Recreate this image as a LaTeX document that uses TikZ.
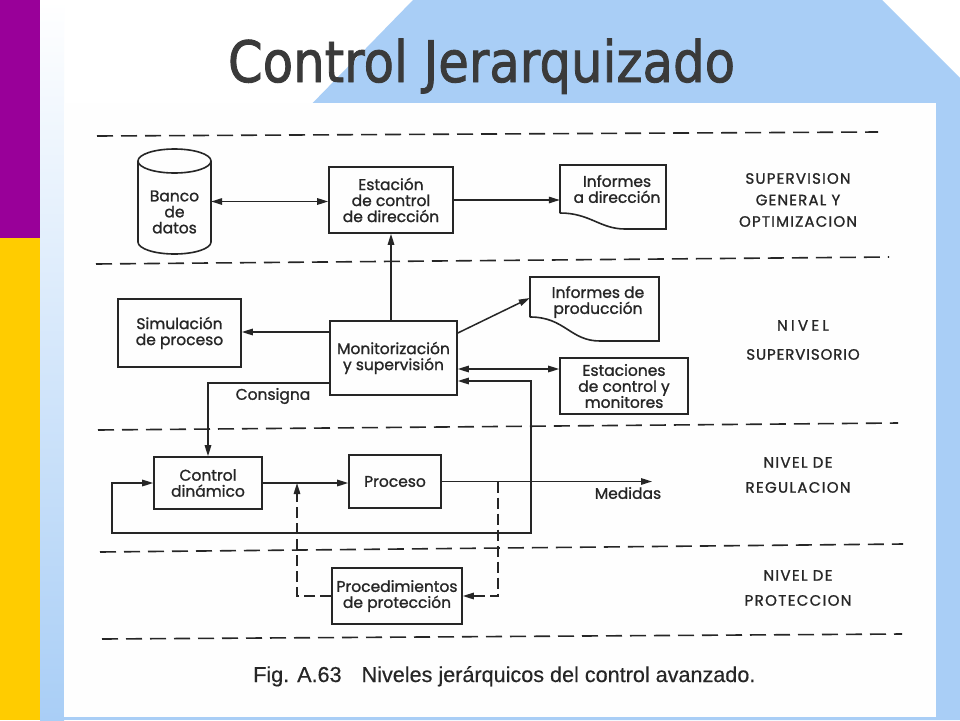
\documentclass[tikz,border=0pt]{standalone}
\usepackage{fontspec}
\usepackage{graphicx}
\usetikzlibrary{arrows.meta}
\newfontfamily\diagfont{Poppins}[FakeBold=1.2]
\newfontfamily\capfont{Liberation Sans}[FakeBold=0.4]
\newfontfamily\titlefont{DejaVu Sans}[FakeBold=1.6]
\definecolor{ink}{HTML}{262626}
\definecolor{bgblue}{HTML}{A9CEF6}
\definecolor{purp}{HTML}{990099}
\definecolor{yel}{HTML}{FFCC00}
\definecolor{titlegray}{HTML}{3A3A3A}
\begin{document}
\begin{tikzpicture}[x=1pt,y=-1pt,
  >={Triangle[length=11pt,width=6.5pt]},
  box/.style={draw=ink, line width=1.6pt, inner sep=0pt, align=center, text=ink,
    font=\diagfont\fontsize{15.5}{16}\selectfont},
  txt/.style={inner sep=0pt, align=center, text=ink, font=\diagfont\fontsize{15.5}{16}\selectfont},
  lvltxt/.style={inner sep=0pt, align=center, text=ink},
  lvl/.style={draw=ink, line width=1.6pt, dash pattern=on 16pt off 8pt},
  wire/.style={draw=ink, line width=1.5pt, ->},
  dwire/.style={wire, dash pattern=on 11pt off 5pt},
  outline/.style={draw=ink, line width=1.6pt}
]
\useasboundingbox (0,0) rectangle (960,720);
% background
\fill[white] (0,0) rectangle (960,720);
\fill[bgblue] (413,0) -- (882,0) -- (960,78) -- (960,720) -- (300,720) -- (300,116) -- cycle;
\shade[top color=white, bottom color=bgblue] (40,0) rectangle (64,720);
\fill[bgblue] (40,717) rectangle (960,720);
\fill[purp] (0,0) rectangle (40,238);
\fill[yel] (0,238) rectangle (40,720);
\fill[white!99.5!black] (64,103) rectangle (936,717);
% title
\node[anchor=base, text=titlegray] (title) at (481.5,82)
  {\resizebox{507pt}{\height}{\titlefont\fontsize{57}{60}\selectfont Control Jerarquizado}};
% level lines
\draw[lvl] (97,136) -- (878,132);
\draw[lvl] (96,264) -- (889,257);
\draw[lvl] (98,430) -- (898,423);
\draw[lvl] (100,552) -- (903,544);
\draw[lvl] (102,639) -- (902,634);
% boxes
\node[box, minimum width=124pt, minimum height=66pt] (est) at (391,200) {Estación\\de control\\de dirección};
\node[box, minimum width=123pt, minimum height=68pt] (sim) at (179.5,333) {Simulación\\de proceso};
\node[box, minimum width=127pt, minimum height=74pt] (mon) at (393.5,358) {Monitorización\\y supervisión};
\node[box, minimum width=128pt, minimum height=56pt] (estac) at (624,386) {Estaciones\\de control y\\monitores};
\node[box, minimum width=108pt, minimum height=52pt] (ctrl) at (208,483) {Control\\dinámico};
\node[box, minimum width=92pt, minimum height=53pt] (proc) at (395,481.5) {Proceso};
\node[box, minimum width=130pt, minimum height=56pt] (prot) at (397,596) {Procedimientos\\de protección};
% database cylinder
\node[inner sep=0pt, minimum width=73pt, minimum height=105pt] (banco) at (174.5,201.5) {};
\draw[outline] (174.5,161) ellipse [x radius=36.5, y radius=12];
\draw[outline] (138,161) -- (138,242) arc[start angle=180, end angle=0, x radius=36.5, y radius=12] -- (211,161);
\node[txt] (bancotxt) at (174.5,212) {Banco\\de\\datos};
% documents
\node[inner sep=0pt, minimum width=106pt, minimum height=64pt] (infd) at (613,197) {};
\draw[outline] (560,213) -- (560,165) -- (666,165) -- (666,229) -- (625,229)
  .. controls (600,229) and (590,213) .. (560,213);
\node[txt] (infdtxt) at (617,189) {Informes\\a dirección};
\node[inner sep=0pt, minimum width=129pt, minimum height=64pt] (infp) at (594.5,309) {};
\draw[outline] (530,317) -- (530,277) -- (659,277) -- (659,341) -- (600,341)
  .. controls (570,341) and (565,317) .. (530,317);
\node[txt] (infptxt) at (598,302) {Informes de\\producción};
% level labels
\node[lvltxt, font=\diagfont\fontsize{15}{21.5}\selectfont\addfontfeature{LetterSpace=8}] (l1) at (798,200) {SUPERVISION\\GENERAL Y\\OPTIMIZACION};
\node[lvltxt, font=\diagfont\fontsize{15}{29}\selectfont\addfontfeature{LetterSpace=6}] (l2) at (803,340) {{\addfontfeature{LetterSpace=22}NIVEL}\\SUPERVISORIO};
\node[lvltxt, font=\diagfont\fontsize{15}{25}\selectfont\addfontfeature{LetterSpace=9}] (l3) at (798,475) {NIVEL DE\\REGULACION};
\node[lvltxt, font=\diagfont\fontsize{15}{25}\selectfont\addfontfeature{LetterSpace=9}] (l4) at (798,588) {NIVEL DE\\PROTECCION};
% helper coordinates
\coordinate (y332) at (0,332);
\coordinate (y333) at (0,333);
\coordinate (y298) at (0,298);
\coordinate (y369) at (0,369);
\coordinate (y381) at (0,381);
\coordinate (y383) at (0,383);
\coordinate (y533) at (0,533);
\coordinate (x112) at (112,0);
\coordinate (x297) at (297,0);
\coordinate (jm) at (proc.east -| 531,0);
\coordinate (jd) at (proc.east -| 498,0);
\coordinate (med) at (proc.east -| 652,0);
% connectors
\draw[wire,<->] (banco.east) -- (banco.east -| est.west);
\draw[wire] (est.east) -- (est.east -| infd.west);
\draw[wire] (est.south |- mon.north) -- (est.south);
\draw[wire] (mon.west |- y332) -- (sim.east |- y332);
\draw[wire] (mon.east |- y333) -- (infp.west |- y298);
\draw[wire,<->] (mon.east |- y369) -- (estac.west |- y369);
\draw[wire] (jm) -- (jm |- y381) -- (mon.east |- y381);
\draw[wire] (jm) -- (jm |- y533) -- (x112 |- y533) -- (x112 |- ctrl.west) -- (ctrl.west);
\draw[wire] (mon.west |- y383) -- (ctrl.north |- y383) -- (ctrl.north);
\draw[wire] (ctrl.east) -- (ctrl.east -| proc.west);
\draw[wire] (proc.east) -- (med);
\draw[dwire] (jd) -- (jd |- prot.east) -- (prot.east);
\draw[dwire] (prot.west) -- (x297 |- prot.west) -- (x297 |- ctrl.east);
% labels
\node[txt] (consigna) at (273,396) {Consigna};
\node[txt] (medidas) at (628,493) {Medidas};
\node[anchor=base west, inner sep=0pt, text=ink, font=\capfont\fontsize{21.6}{24}\selectfont] (caption) at (253,682)
  {Fig. A.63\hspace{20pt}Niveles jerárquicos del control avanzado.};
\end{tikzpicture}
\end{document}
